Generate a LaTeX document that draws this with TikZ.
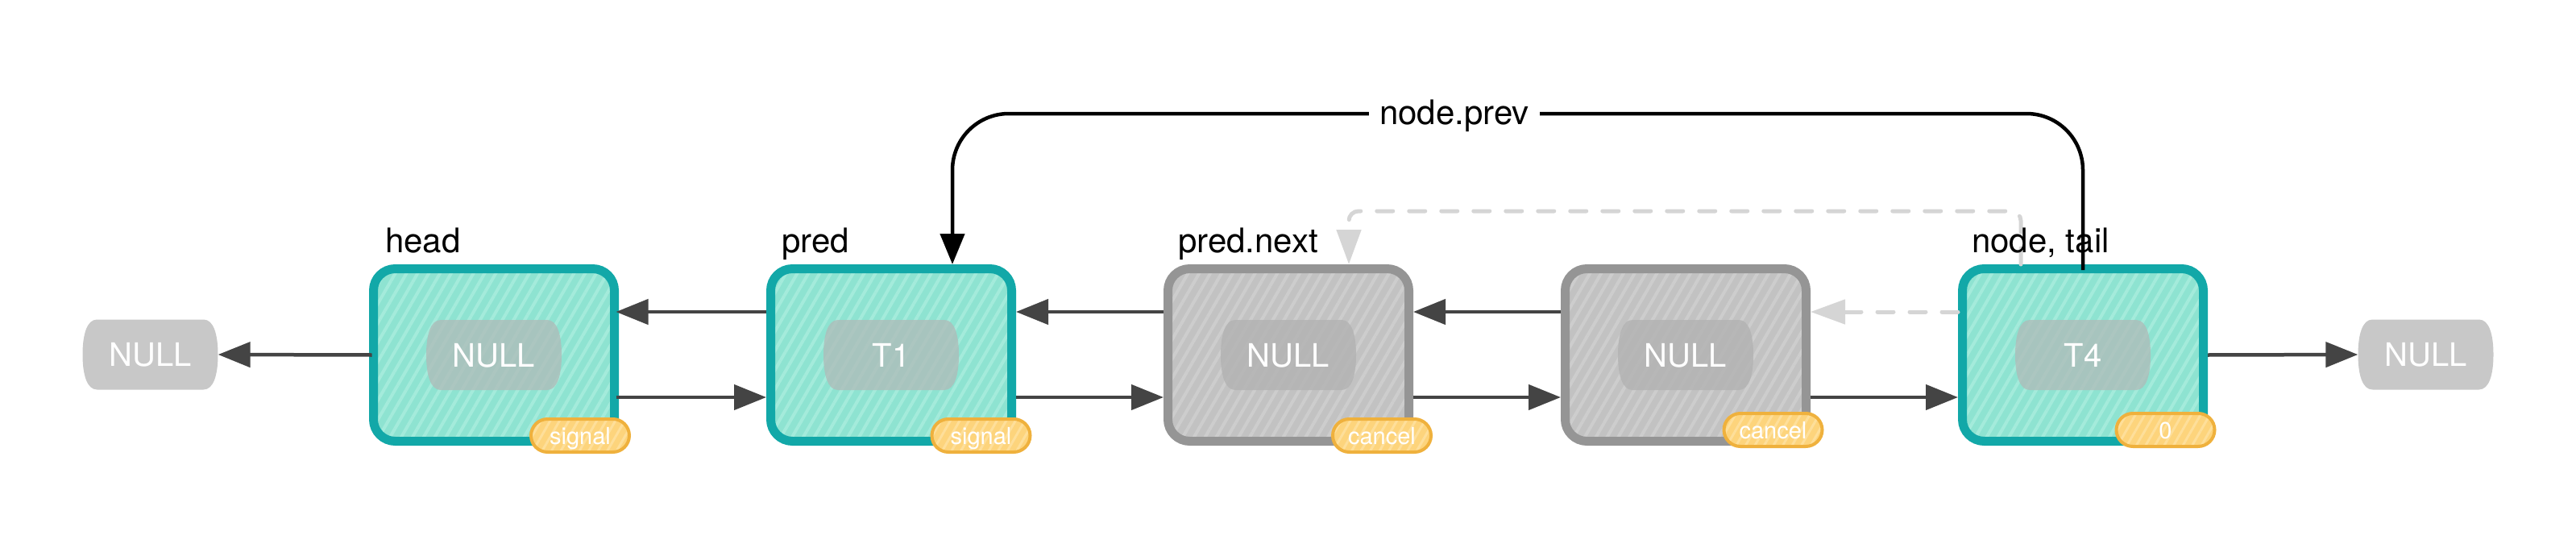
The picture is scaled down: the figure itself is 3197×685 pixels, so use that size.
\documentclass[tikz,border=0pt]{standalone}
\usepackage{fontspec}
\setmainfont{TeX Gyre Heros}
\usetikzlibrary{arrows.meta,shapes.misc,patterns.meta}
\definecolor{tealb}{HTML}{12A8A8}
\definecolor{mint}{HTML}{8EE3D1}
\definecolor{mintstripe}{HTML}{A4EBDB}
\definecolor{gborder}{HTML}{959595}
\definecolor{gfill}{HTML}{C2C2C2}
\definecolor{gstripe}{HTML}{CDCDCD}
\definecolor{nullfill}{HTML}{C8C8C8}
\definecolor{tpillc}{HTML}{AEBDBA}
\definecolor{gpillc}{HTML}{B2B2B2}
\definecolor{badgefill}{HTML}{FDD47C}
\definecolor{badgestripe}{HTML}{FEDF9A}
\definecolor{badgeline}{HTML}{EFB13D}
\definecolor{darkarr}{HTML}{444444}
\definecolor{lgray}{HTML}{D5D5D5}
\newcommand{\drawbarrel}[2]{%
  \path[#2, shift={(#1)}] (-66,-43.5) -- (66,-43.5)
    .. controls (79,-43.5) and (84,-24) .. (84,0)
    .. controls (84,24) and (79,43.5) .. (66,43.5)
    -- (-66,43.5)
    .. controls (-79,43.5) and (-84,24) .. (-84,0)
    .. controls (-84,-24) and (-79,-43.5) .. (-66,-43.5) -- cycle;}
\begin{document}
\begin{tikzpicture}[x=1pt,y=-1pt,
  listbox/.style={draw, line width=11pt, minimum width=299pt, minimum height=214pt,
    rounded corners=27pt, inner sep=0pt},
  tbox/.style={listbox, draw=tealb, preaction={fill=mint},
    pattern={Lines[angle=60,distance=12pt,line width=4pt]}, pattern color=mintstripe},
  gbox/.style={listbox, draw=gborder, preaction={fill=gfill},
    pattern={Lines[angle=60,distance=12pt,line width=4pt]}, pattern color=gstripe},
  ptext/.style={rectangle, minimum width=168pt, minimum height=87pt, inner sep=0pt,
    text=white, text height=29pt, text depth=0pt, font=\fontsize{40}{48}\selectfont},
  tpill/.style={fill=tpillc, fill opacity=0.8},
  gpill/.style={fill=gpillc, fill opacity=0.8},
  npill/.style={fill=nullfill},
  badge/.style={rounded rectangle, minimum width=122pt, minimum height=41pt, inner sep=0pt,
    draw=badgeline, line width=4pt, preaction={fill=badgefill},
    pattern={Lines[angle=60,distance=10pt,line width=3pt]}, pattern color=badgestripe,
    text=white, text height=21pt, text depth=0pt, font=\fontsize{29}{34}\selectfont},
  lbl/.style={inner sep=0pt, font=\fontsize{42}{50}\selectfont, text=black},
  arr/.style={draw=darkarr, line width=4.5pt, -{Triangle[length=40pt,width=31pt]}},
  garr/.style={draw=lgray, line width=5pt, dash pattern=on 20pt off 20pt, line cap=round,
    -{Triangle[length=43pt,width=30pt]}},
  barr/.style={draw=black, line width=4.5pt, -{Triangle[length=38pt,width=30pt]}}
]
\useasboundingbox (0,0) rectangle (3197,685);

% list nodes
\node[tbox] (b1) at (613,440.5) {};
\node[tbox] (b2) at (1106,440.5) {};
\node[gbox] (b3) at (1599,440.5) {};
\node[gbox] (b4) at (2092,440.5) {};
\node[tbox] (b5) at (2585,440.5) {};

% inner value pills
\drawbarrel{b1}{tpill}
\drawbarrel{b2}{tpill}
\drawbarrel{b3}{gpill}
\drawbarrel{b4}{gpill}
\drawbarrel{b5}{tpill}
\node[ptext] (p1) at (b1) {NULL};
\node[ptext] (p2) at (b2) {T1};
\node[ptext] (p3) at (b3) {NULL};
\node[ptext] (p4) at (b4) {NULL};
\node[ptext] (p5) at (b5) {T4};

% end NULLs
\coordinate (n0c) at (186.5,440);
\coordinate (n6c) at (3010.5,440);
\drawbarrel{n0c}{npill}
\drawbarrel{n6c}{npill}
\node[ptext] (n0) at (n0c) {NULL};
\node[ptext] (n6) at (n6c) {NULL};

% badges
\node[badge] (s1) at (720,540.5) {signal};
\node[badge] (s2) at (1217.5,540.5) {signal};
\node[badge] (s3) at (1715,540.5) {cancel};
\node[badge] (s4) at (2200.5,533.5) {cancel};
\node[badge] (s5) at (2687.5,533.5) {0};

% dashed (old) links
\draw[garr, rounded corners=12pt] ([xshift=-77pt]b5.north) -- ++(0,-66) -| ([xshift=75pt]b3.north);
\draw[garr] ([yshift=53.5pt]b5.west) -- ([yshift=53.5pt]b4.east);

% labels
\node[lbl, anchor=base west] (l1) at (478,313) {head};
\node[lbl, anchor=base west] (l2) at (970,313) {pred};
\node[lbl, anchor=base west] (l3) at (1462,313) {pred.next};
\node[lbl, anchor=base west] (l5) at (2447,313) {node, tail};

% prev links (upper)
\draw[arr] ([yshift=53.5pt]b2.west) -- ([yshift=53.5pt]b1.east);
\draw[arr] ([yshift=53.5pt]b3.west) -- ([yshift=53.5pt]b2.east);
\draw[arr] ([yshift=53.5pt]b4.west) -- ([yshift=53.5pt]b3.east);
% next links (lower)
\draw[arr] ([yshift=-52.5pt]b1.east) -- ([yshift=-52.5pt]b2.west);
\draw[arr] ([yshift=-52.5pt]b2.east) -- ([yshift=-52.5pt]b3.west);
\draw[arr] ([yshift=-52.5pt]b3.east) -- ([yshift=-52.5pt]b4.west);
\draw[arr] ([yshift=-52.5pt]b4.east) -- ([yshift=-52.5pt]b5.west);
% ends
\draw[arr] (b1.west) -- (n0.east);
\draw[arr] (b5.east) -- (n6.west);

% node.prev
\coordinate (c1) at (1182,141);
\draw[barr, rounded corners=70pt] ([yshift=-7pt]b5.north) |- (c1) -- ([xshift=76pt]b2.north);
\node[lbl, fill=white, inner xsep=13pt, inner ysep=6pt] (np) at (1805,144) {node.prev};
\end{tikzpicture}
\end{document}
